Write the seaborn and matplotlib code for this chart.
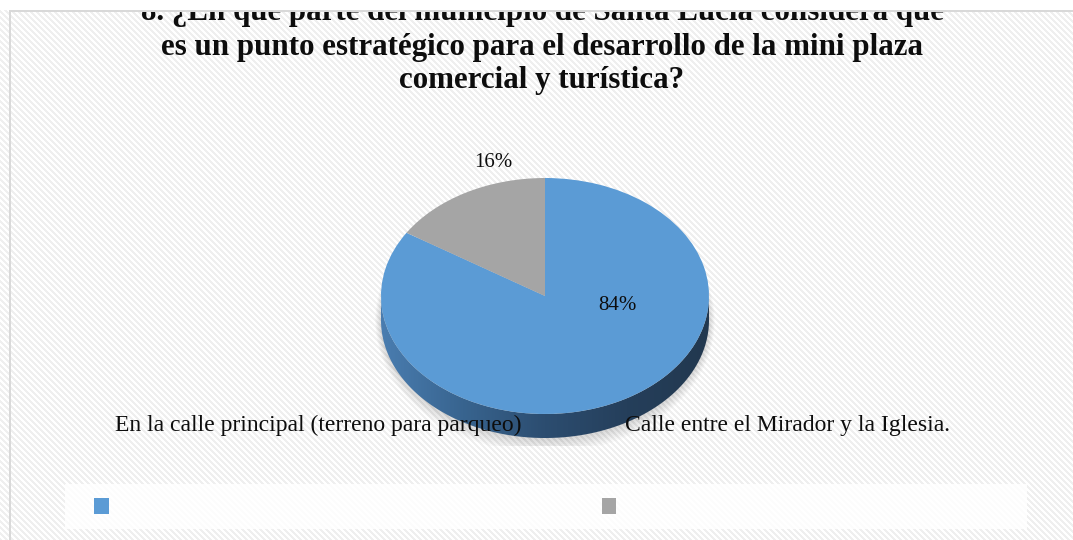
import numpy as np
import matplotlib
matplotlib.use("Agg")
import matplotlib.pyplot as plt
import seaborn as sns
from matplotlib.patches import Polygon, Patch, Ellipse, Rectangle
from matplotlib.colors import LinearSegmentedColormap

# ---- data ----
categories = [
    "En la calle principal (terreno para parqueo)",
    "Calle entre el Mirador y la Iglesia.",
]
shares = [84, 16]
title_lines = [
    "8. ¿En que parte del municipio de Santa Lucía considera que",
    "es un punto estratégico para el desarrollo de la mini plaza",
    "comercial y turística?",
]

sns.set_theme(style="white")
plt.rcParams["font.family"] = ["Liberation Serif", "DejaVu Serif"]
palette = sns.color_palette(["#5b9bd5", "#a5a5a5"])

W, H = 1073, 540
fig = plt.figure(figsize=(W / 100, H / 100), dpi=100)


def fx(x):
    return x / W


def fy(y):
    return 1 - y / H


# ---- background: diagonal pin-stripe fill with a light frame ----
bg = fig.add_axes([0, 0, 1, 1])
rows, cols = np.mgrid[0:H, 0:W]
img = np.ones((H, W, 3))
img[((cols - rows) % 6) < 3] = 0.94
bg.imshow(img, extent=(0, W, H, 0), interpolation="nearest", aspect="auto", zorder=0)
bg.set_xlim(0, W)
bg.set_ylim(H, 0)
bg.axis("off")

# title (top line partly hidden under the frame edge)
baselines = [20, 55, 88]
for line, yb in zip(title_lines, baselines):
    bg.text(542, yb, line, ha="center", va="baseline", fontsize=22.3,
            fontweight="bold", color="#0d0d0d", zorder=3)
bg.add_patch(Rectangle((0, 0), W, 10, facecolor="white", edgecolor="none", zorder=5))
bg.add_patch(Rectangle((9, 10), W, 2, facecolor="#d9d9d9", edgecolor="none", zorder=5))
bg.add_patch(Rectangle((9, 10), 2, H, facecolor="#d9d9d9", edgecolor="none", zorder=5))

# legend strip
bg.add_patch(Rectangle((65, 484), 962, 45, facecolor="white", alpha=0.85,
                       edgecolor="none", zorder=2))

# ---- 3D-style pie ----
cx, cy, rx, ry, depth = 545, 296, 164, 118, 24
axp = fig.add_axes([fx(cx - 200), fy(cy + 150), 400 / W, 300 / H])
axp.pie(shares, colors=palette, startangle=90, counterclock=False, radius=1,
        wedgeprops=dict(linewidth=0), frame=False)
for w in axp.patches:
    w.set_zorder(3)
axp.set_aspect("auto")
axp.axis("off")
d = depth / ry

# soft shadow under the disc
for k in range(8):
    axp.add_patch(Ellipse((0.0, -d - 0.005), 2 + 0.01 * k, 2 + 0.035 * k,
                          facecolor="black", alpha=0.018, edgecolor="none", zorder=1))

# side wall with shading from left to right
t = np.linspace(np.pi, 2 * np.pi, 300)
side_xy = np.concatenate([
    np.c_[np.cos(t), np.sin(t)],
    np.c_[np.cos(t[::-1]), np.sin(t[::-1]) - d],
])
side = Polygon(side_xy, closed=True, facecolor="none", edgecolor="none")
axp.add_patch(side)
side_cmap = LinearSegmentedColormap.from_list(
    "side", ["#4a7db0", "#38648f", "#2c4d70", "#253f5b", "#22384f"])
grad = np.linspace(0, 1, 256)[None, :]
im = axp.imshow(grad, extent=(-1, 1, -1 - d, 0.01), cmap=side_cmap,
                aspect="auto", zorder=2)
im.set_clip_path(side)
axp.set_xlim(-200 / rx, 200 / rx)
axp.set_ylim(-150 / ry, 150 / ry)

# percentage labels
pct_pos = [((617 - cx) / rx, (cy - 310) / ry), ((493 - cx) / rx, (cy - 167) / ry)]
for v, (px, py) in zip(shares, pct_pos):
    axp.text(px, py, f"{v}%", ha="center", va="baseline", fontsize=15,
             color="#0d0d0d", zorder=6)

# category names
fig.text(fx(115), fy(431), categories[0], ha="left", va="baseline",
         fontsize=17, color="#0d0d0d", zorder=6)
fig.text(fx(625), fy(431), categories[1], ha="left", va="baseline",
         fontsize=17, color="#0d0d0d", zorder=6)

# legend keys
handles = [Patch(facecolor=c, edgecolor="none") for c in palette]
fig.legend(handles=handles, labels=["", ""], ncol=2, loc="upper left",
           bbox_to_anchor=(fx(94), fy(498)), frameon=False, fontsize=10,
           borderpad=0, borderaxespad=0, handlelength=1.05, handleheight=1.4,
           handletextpad=0, columnspacing=35.5)

fig.savefig("out.png", dpi=100)
